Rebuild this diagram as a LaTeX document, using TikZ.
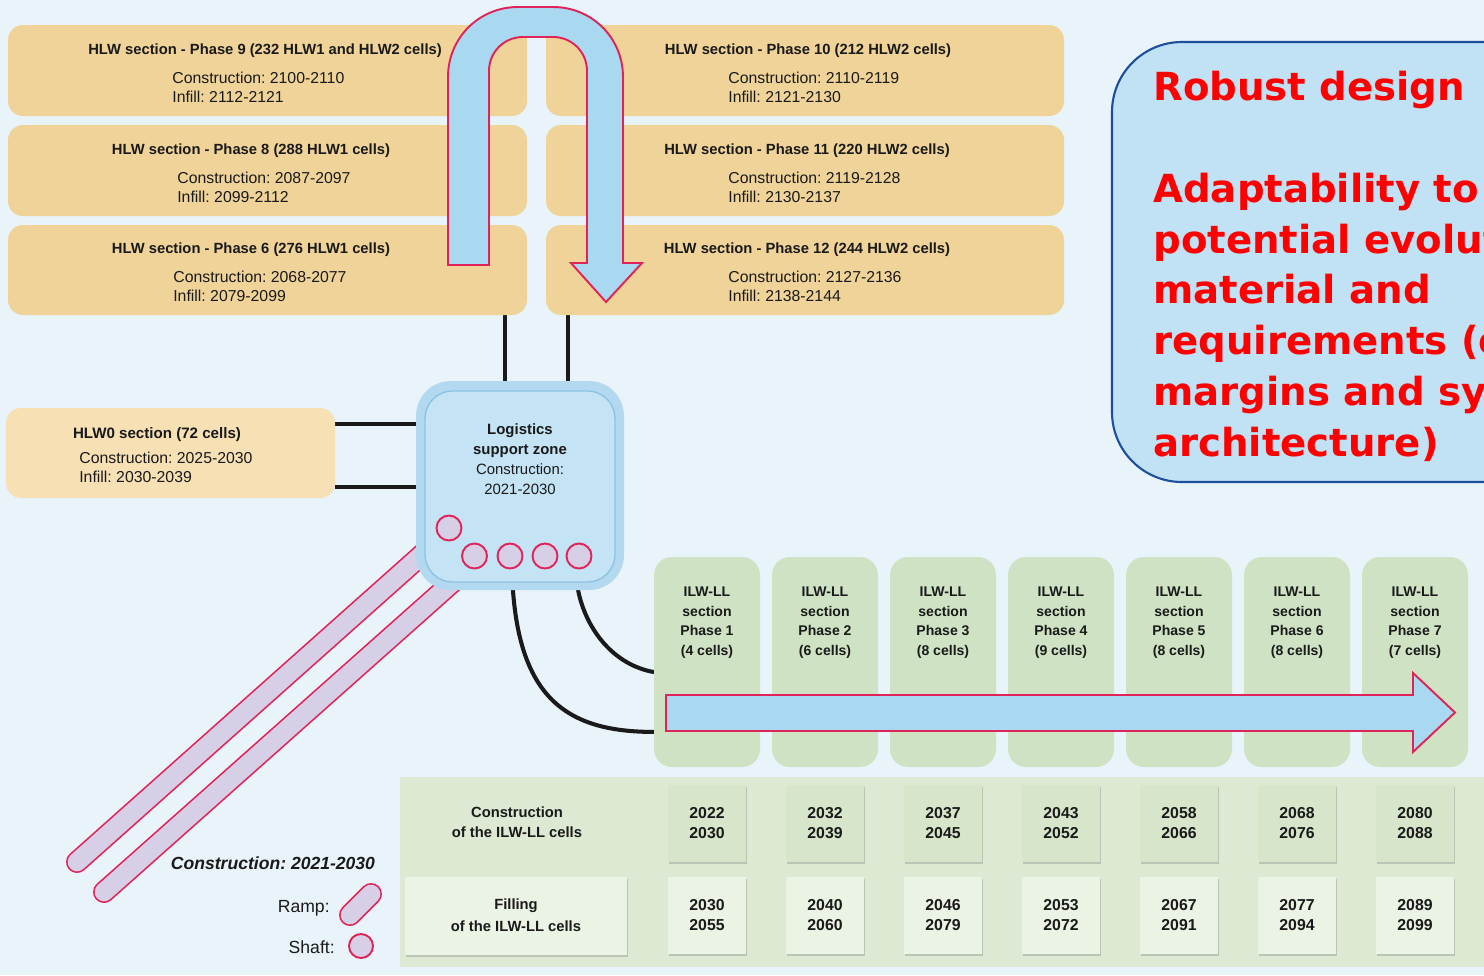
\documentclass[tikz,border=0pt]{standalone}
\usepackage{fontspec}
\setmainfont{Liberation Sans}
\newfontfamily\notefont{DejaVu Sans}
\usetikzlibrary{calc,shadows}
\pgfdeclarelayer{back}
\pgfdeclarelayer{mid}
\pgfsetlayers{back,mid,main}
\frenchspacing

\definecolor{bgblue}{HTML}{E8F3FA}
\definecolor{sand}{HTML}{F0D398}
\definecolor{sandlight}{HTML}{F6E0B4}
\definecolor{zonerim}{HTML}{B2D9EF}
\definecolor{zoneblue}{HTML}{C4E4F6}
\definecolor{zoneedge}{HTML}{8EC2DF}
\definecolor{arrowblue}{HTML}{A9D9F0}
\definecolor{crimson}{HTML}{E0245A}
\definecolor{lavender}{HTML}{D6CFE6}
\definecolor{ilwgreen}{HTML}{CFE3C4}
\definecolor{tablegreen}{HTML}{DDE9D3}
\definecolor{yeargreen}{HTML}{D7E6CB}
\definecolor{palegreen}{HTML}{EBF3E4}
\definecolor{notefill}{HTML}{C1E1F5}
\definecolor{noteline}{HTML}{1C4F9C}
\definecolor{ink}{HTML}{1A1A1A}
\definecolor{notered}{HTML}{FF0000}

\tikzset{
  wh/.style 2 args={minimum width=#1*0.02cm, minimum height=#2*0.02cm},
  hlwbox/.style={rectangle, rounded corners=0.3cm, fill=sand, inner sep=0pt, outer sep=0pt},
  title/.style={font=\bfseries\fontsize{8.4}{10}\selectfont, anchor=base, inner sep=0pt, text=ink},
  dates/.style={font=\fontsize{9}{11.34}\selectfont, align=left, anchor=north west, inner sep=0pt, text=ink},
  zone/.style={rectangle, rounded corners=0.7cm, fill=zonerim, inner sep=0pt, outer sep=0pt},
  shaft/.style={circle, minimum size=0.5cm, inner sep=0pt, fill=lavender, draw=crimson, line width=1.1pt},
  wire/.style={draw=ink, line width=2.3pt},
  ramp/.style={line cap=round, line width=12.5pt, draw=crimson},
  rampcore/.style={line cap=round, line width=10.6pt, draw=lavender},
  bigarrow/.style={fill=arrowblue, draw=crimson, line width=1.1pt, line join=miter},
  ilwcol/.style={rectangle, rounded corners=0.36cm, fill=ilwgreen, inner sep=0pt, outer sep=0pt},
  ilwtext/.style={font=\bfseries\fontsize{8}{11.2}\selectfont, align=center, anchor=north, inner sep=0pt, text=ink},
  yearbox/.style={rectangle, inner sep=0pt, outer sep=0pt, wh={78}{77}, align=center,
    font=\bfseries\fontsize{9}{11.34}\selectfont, text=ink,
    drop shadow={shadow xshift=0.8pt, shadow yshift=-1.3pt, opacity=0.35}},
  tablelabel/.style={font=\bfseries\fontsize{8.4}{11.34}\selectfont, align=center, inner sep=0pt, text=ink},
}

\begin{document}
\begin{tikzpicture}[x=0.02cm, y=-0.02cm]
\useasboundingbox (0,0) rectangle (1484,975);
\clip (0,0) rectangle (1484,975);
\begin{pgfonlayer}{back}
  \fill[bgblue] (0,0) rectangle (1484,975);
\end{pgfonlayer}

% HLW sections
\node[hlwbox, wh={519}{91}] (h9)  at (267.5,70.5) {};
\node[hlwbox, wh={519}{91}] (h8)  at (267.5,170.5) {};
\node[hlwbox, wh={519}{90}] (h6)  at (267.5,270) {};
\node[hlwbox, wh={518}{91}] (h10) at (805,70.5) {};
\node[hlwbox, wh={518}{91}] (h11) at (805,170.5) {};
\node[hlwbox, wh={518}{90}] (h12) at (805,270) {};
\node[hlwbox, fill=sandlight, wh={329}{90}] (h0) at (170.5,453) {};

\node[title] (h9t)  at (265,54.5)  {HLW section - Phase 9 (232 HLW1 and HLW2 cells)};
\node[dates] (h9d)  at (172,71.2)  {Construction: 2100-2110\\Infill: 2112-2121};
\node[title] (h8t)  at (251,154.5) {HLW section - Phase 8 (288 HLW1 cells)};
\node[dates] (h8d)  at (177,171.2) {Construction: 2087-2097\\Infill: 2099-2112};
\node[title] (h6t)  at (251,253.5) {HLW section - Phase 6 (276 HLW1 cells)};
\node[dates] (h6d)  at (173,270.2) {Construction: 2068-2077\\Infill: 2079-2099};
\node[title] (h10t) at (808,54.5)  {HLW section - Phase 10 (212 HLW2 cells)};
\node[dates] (h10d) at (728,71.2)  {Construction: 2110-2119\\Infill: 2121-2130};
\node[title] (h11t) at (807,154.5) {HLW section - Phase 11 (220 HLW2 cells)};
\node[dates] (h11d) at (728,171.2) {Construction: 2119-2128\\Infill: 2130-2137};
\node[title] (h12t) at (807,253.5) {HLW section - Phase 12 (244 HLW2 cells)};
\node[dates] (h12d) at (728,270.2) {Construction: 2127-2136\\Infill: 2138-2144};
\node[title, font=\bfseries\fontsize{8.6}{10}\selectfont] (h0t) at (157,438.5) {HLW0 section (72 cells)};
\node[dates] (h0d)  at (79,451.2)  {Construction: 2025-2030\\Infill: 2030-2039};

% Logistics support zone with its shafts
\node[zone, wh={208}{209}] (lsz) at (520,485.5) {};
\fill[zoneblue, draw=zoneedge, line width=0.8pt, rounded corners=0.55cm] (425,391) rectangle (615,582);
\node[font=\fontsize{8.5}{11.34}\selectfont, align=center, inner sep=0pt, text=ink] (lszt) at (520,459.5)
  {\textbf{Logistics}\\\textbf{support zone}\\Construction:\\2021-2030};
\node[shaft] (s1) at (449,528) {};
\node[shaft] (s2) at (474.5,556) {};
\node[shaft] (s3) at (510,556) {};
\node[shaft] (s4) at (545,556) {};
\node[shaft] (s5) at (579,556) {};

% ILW-LL sections
\foreach \i/\n in {1/4,2/6,3/8,4/9,5/8,6/8,7/7}{
  \node[ilwcol, wh={106}{210}] (ilw\i) at ({707+118*(\i-1)},662) {};
  \node[ilwtext] (ilwt\i) at ({707+118*(\i-1)},586.5) {ILW-LL\\section\\Phase \i\\(\n\ cells)};
}

% Ramps and connections, beneath the zone
\begin{pgfonlayer}{mid}
  \draw[ramp] (77,862) -- (480,503);
  \draw[rampcore] (77,862) -- (480,503);
  \draw[ramp] (104,892) -- (500,540);
  \draw[rampcore] (104,892) -- (500,540);
  \draw[wire] ($(h0.north east)!0.178!(h0.south east)$) coordinate (w1) -- (w1 -| lsz.west);
  \draw[wire] ($(h0.north east)!0.878!(h0.south east)$) coordinate (w2) -- (w2 -| lsz.west);
  \draw[wire] ($(lsz.north west)!0.428!(lsz.north east)$) coordinate (w3) -- (w3 |- h6.south);
  \draw[wire] ($(lsz.north west)!0.731!(lsz.north east)$) coordinate (w4) -- (w4 |- h12.south);
  \draw[wire] ($(lsz.south west)!0.466!(lsz.south east)$) .. controls +(8,110) and +(-85,0) ..
    ($(ilw1.north west)!0.833!(ilw1.south west)$);
  \draw[wire] ($(lsz.south west)!0.779!(lsz.south east)$) .. controls +(8,40) and +(-40,-7) ..
    ($(ilw1.north west)!0.548!(ilw1.south west)$);
\end{pgfonlayer}

% Order of the HLW phases
\draw[bigarrow] (448,265) -- (448,77) .. controls (448,38) and (479,7) .. (518,7) -- (553,7)
  .. controls (592,7) and (623,38) .. (623,77) -- (623,263) -- (642,263) -- (606,302)
  -- (571,263) -- (587,263) -- (587,71) .. controls (587,52) and (572,37) .. (553,37)
  -- (523,37) .. controls (504,37) and (489,52) .. (489,71) -- (489,265) -- cycle;

% Order of the ILW-LL phases
\draw[bigarrow] (666,695) -- (1413,695) -- (1413,673) -- (1455,712.5) -- (1413,752)
  -- (1413,731) -- (666,731) -- cycle;

% Schedule table
\fill[tablegreen] (400,777) rectangle (1490,967);
\node[tablelabel] (clab) at (517,822) {Construction\\of the ILW-LL cells};
\node[yearbox, fill=palegreen, wh={222}{78}, font=\bfseries\fontsize{8.4}{12.5}\selectfont] (flab) at (516,915.5)
  {Filling\\of the ILW-LL cells};
\foreach \i/\a/\b/\c/\d in {1/2022/2030/2030/2055, 2/2032/2039/2040/2060, 3/2037/2045/2046/2079,
    4/2043/2052/2053/2072, 5/2058/2066/2067/2091, 6/2068/2076/2077/2094, 7/2080/2088/2089/2099}{
  \node[yearbox, fill=yeargreen] (yc\i) at ({707+118*(\i-1)},823.5) {\a\\\b};
  \node[yearbox, fill=palegreen] (yf\i) at ({707+118*(\i-1)},915.5) {\c\\\d};
}

% Legend
\node[font=\bfseries\itshape\fontsize{10}{12}\selectfont, inner sep=0pt, text=ink] (legc) at (273,863) {Construction: 2021-2030};
\node[font=\fontsize{10}{12}\selectfont, anchor=east, inner sep=0pt, text=ink] (legr) at (330,908) {Ramp:};
\node[font=\fontsize{10}{12}\selectfont, anchor=east, inner sep=0pt, text=ink] (legs) at (335,947) {Shaft:};
\draw[ramp] (350,915) -- (371,894);
\draw[rampcore] (350,915) -- (371,894);
\node[shaft, minimum size=0.48cm] (legshaft) at (361,946) {};

% Design note
\node[rectangle, rounded corners=1.4cm, fill=notefill, draw=noteline, line width=1.2pt, wh={488}{440}] (note) at (1356,262) {};
\node[font=\notefont\bfseries\fontsize{22}{28.9}\selectfont, text=notered, align=left, anchor=north west, inner sep=0pt] (notet) at (1153,71)
  {Robust design\\[28.9pt]Adaptability to\\potential evolut\\material and\\requirements (e\\margins and sy\\architecture)};
\end{tikzpicture}
\end{document}
